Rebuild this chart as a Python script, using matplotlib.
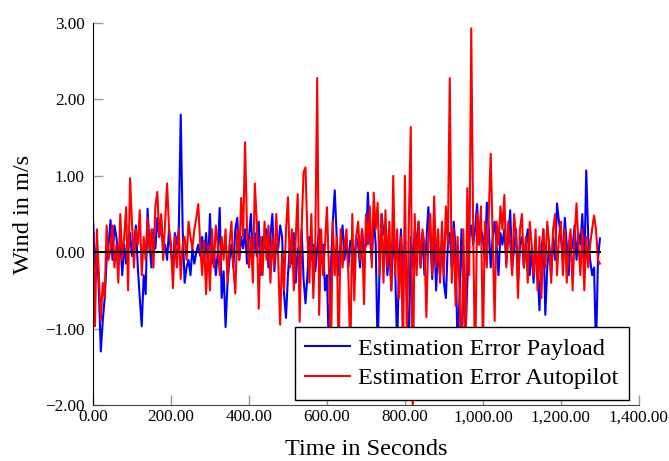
import matplotlib
matplotlib.use("Agg")
import matplotlib.pyplot as plt
from matplotlib.ticker import FuncFormatter
import numpy as np

plt.rcParams["font.family"] = ["Liberation Serif", "DejaVu Serif"]
plt.rcParams["axes.unicode_minus"] = True

# Sample times (s), one estimate every 5 seconds
time_s = np.arange(0, 1305, 5)

# Wind estimation error from the payload sensor (m/s)
payload_err = [
    0.45, -0.2, 0.1, -0.5, -1.3, -0.9, -0.6, -0.1, 0.1, 0.42,
    -0.1, 0.35, 0.2, -0.05, 0.15, -0.3, 0.1, -0.15, 0.05, 0.25,
    -0.05, 0.1, 0.35, -0.2, -0.6, -0.97, -0.3, -0.55, 0.57, 0.1,
    -0.2, 0.3, 0.05, 0.45, 0.2, 0.4, 0.05, 0.1, -0.1, 0.3,
    0.0, -0.2, 0.25, 0.1, 0.3, 1.8, 0.3, -0.4, -0.2, -0.1,
    -0.3, 0.05, -0.15, 0.0, 0.1, -0.05, 0.2, -0.1, 0.25, -0.2,
    0.5, -0.15, 0.05, -0.3, 0.0, 0.58, -0.6, -0.25, -0.98, -0.4,
    -0.1, 0.1, -0.2, 0.3, 0.45, -0.1, 0.2, 0.05, 0.3, -0.15,
    0.2, 0.5, -0.1, 0.25, -0.05, 0.4, -0.3, 0.2, 0.05, 0.3,
    -0.2, 0.2, 0.5, -0.25, 0.1, 0.05, 0.35, 0.2, -0.55, -0.86,
    -0.3, 0.1, -0.15, 0.25, -0.4, 0.05, -0.2, 0.3, -0.35, -0.67,
    -0.3, 0.2, -0.1, 0.1, -0.25, 0.05, 0.3, -0.15, 0.1, -0.5,
    -0.3, -1.3, -0.2, 0.4, 0.81, 0.2, -0.3, 0.1, 0.35, -0.1,
    0.2, -0.2, 0.15, 0.1, -0.1, 0.2, 0.1, -0.2, 0.3, 0.0,
    0.1, 0.78, 0.2, -0.1, 0.45, 0.1, -1.3, -0.2, 0.5, 0.25,
    0.2, -0.3, 0.1, -0.5, 0.3, -0.2, -1.3, -0.1, 0.3, -0.4,
    0.1, -0.6, -1.3, 0.2, -0.2, 0.3, 0.1, 0.4, -0.2, 0.25,
    -0.3, 0.15, 0.59, 0.2, -0.35, 0.3, -0.5, 0.1, -0.3, 0.2,
    -0.4, -0.6, 0.1, 0.25, -0.2, 0.4, 0.05, -1.3, -0.6, 0.3,
    -0.5, -1.2, -0.4, 0.2, 0.35, 0.1, 0.3, 0.63, 0.1, 0.3,
    0.2, -0.1, 0.65, 0.3, -0.2, 0.2, 0.4, 0.1, -0.3, 0.25,
    0.1, 0.3, -0.15, 0.2, 0.55, -0.2, 0.05, 0.3, -0.4, 0.1,
    0.2, -0.2, 0.1, 0.3, -0.3, 0.05, -0.4, 0.1, -0.2, -0.76,
    0.0, 0.3, -0.82, -0.2, 0.1, -0.3, 0.2, -0.1, 0.64, 0.4,
    0.2, -0.1, 0.45, 0.1, -0.3, 0.2, 0.05, 0.35, -0.1, 0.25,
    0.1, 0.5, -0.2, 1.07, 0.2, -0.1, -0.3, -0.2, -1.3, -0.1,
    0.18,
]

# Wind estimation error from the autopilot (m/s)
autopilot_err = [
    0.3, -0.97, 0.3, -0.3, -0.9, -0.4, -0.6, 0.35, -0.1, 0.05,
    0.35, -0.2, 0.1, -0.4, 0.5, -0.1, 0.2, 0.59, -0.5, 0.97,
    0.4, -0.2, 0.3, 0.1, 0.55, -0.3, 0.2, -0.1, 0.45, 0.0,
    0.3, -0.2, 0.6, 0.79, 0.2, 0.5, -0.1, 0.4, 0.9, 0.3,
    0.1, -0.47, 0.2, -0.2, 0.3, -0.35, 0.1, 0.2, -0.1, 0.4,
    0.2, 0.05, 0.3, 0.45, 0.63, 0.1, -0.3, 0.15, -0.55, 0.1,
    -0.5, 0.3, -0.2, 0.35, 0.1, -0.3, 0.2, -0.1, 0.3, -0.4,
    0.1, 0.4, -0.2, -0.54, 0.3, -0.1, 0.71, 0.2, 1.44, 0.3,
    -0.2, 0.2, -0.4, 0.9, 0.4, -0.74, 0.2, -0.3, 0.4, -0.1,
    0.35, -0.4, 0.2, -0.2, 0.5, -0.1, -0.95, 0.0, -0.5, 0.3,
    0.72, -0.2, 0.3, -0.5, 0.2, 0.76, -0.91, 0.3, 1.05, 1.11,
    0.2, -0.4, 0.5, -0.6, 0.1, 2.28, -0.82, 0.3, -0.3, 0.1,
    0.59, -0.2, -1.5, 0.4, -0.3, 0.2, -1.4, 0.3, -0.2, 0.1,
    0.3, -0.3, -1.4, 0.5, -0.63, 0.2, 0.4, -0.1, 0.3, -0.68,
    0.5, 0.1, 0.6, -0.2, 0.78, 0.3, 0.65, -0.3, 0.5, -0.4,
    0.55, -0.2, 0.4, -0.5, 1.0, -0.3, 0.3, -0.6, 0.2, -1.4,
    1.0, -1.2, 0.4, 1.64, -2.1, 0.5, -0.3, 0.4, -0.2, 0.3,
    0.1, -0.85, 0.2, 0.5, -0.3, 0.73, -0.2, 0.3, -0.4, 0.4,
    -0.3, 0.6, 0.1, 2.28, -0.4, 0.3, -0.7, 0.2, -0.5, -1.5,
    0.3, -1.4, 0.84, -0.3, 2.93, 0.3, -1.6, 0.5, 0.1, 0.6,
    -1.3, 0.4, -0.2, 0.5, 1.29, 0.2, -0.9, 0.4, 0.1, 0.6,
    0.3, 0.75, -0.2, 0.4, 0.1, -0.3, 0.5, 0.2, -0.6, 0.3,
    0.5, -0.2, 0.2, -0.4, 0.4, 0.1, -0.3, 0.3, -0.5, 0.2,
    -0.6, 0.3, -0.2, 0.4, 0.1, -0.4, 0.3, 0.5, -0.3, 0.2,
    0.4, -0.3, 0.3, -0.4, 0.1, 0.3, -0.5, 0.2, 0.64, 0.1,
    -0.3, 0.3, -0.5, 0.2, -0.2, 0.1, 0.3, 0.48, 0.3, -0.1,
    -0.15,
]

x_ticks = [0, 200, 400, 600, 800, 1000, 1200, 1400]
y_ticks = [-2, -1, 0, 1, 2, 3]

fig = plt.figure(figsize=(6.69, 4.61), dpi=100)
ax = fig.add_axes([0.139, 0.1215, 0.816, 0.8285])

ax.plot(time_s, payload_err, color="#0000ff", lw=1.5, label="Estimation Error Payload")
ax.plot(time_s, autopilot_err, color="#ff0000", lw=1.5, label="Estimation Error Autopilot")
ax.plot(time_s, np.zeros(len(time_s)), color="black", lw=1.5)

ax.set_xlim(0, 1400)
ax.set_ylim(-2, 3)
ax.set_xticks(x_ticks)
ax.set_yticks(y_ticks)

def fmt(v, _pos):
    return f"{v:,.2f}".replace("-", "\u2212")

ax.xaxis.set_major_formatter(FuncFormatter(fmt))
ax.yaxis.set_major_formatter(FuncFormatter(fmt))

for side in ("top", "right"):
    ax.spines[side].set_visible(False)
ax.spines["left"].set_color("black")
ax.spines["bottom"].set_color("#444444")
ax.tick_params(axis="both", direction="in", length=7.5, width=1.0,
               color="#999999", labelsize=12.3, pad=3)
ax.tick_params(axis="y", pad=6)

ax.set_xlabel("Time in Seconds", fontsize=17.5, labelpad=10)
ax.set_ylabel("Wind in m/s", fontsize=17.5, labelpad=8)

leg = ax.legend(loc="lower right", bbox_to_anchor=(0.982, 0.013),
                fontsize=17.5, frameon=True, fancybox=False,
                edgecolor="black", framealpha=1.0, handlelength=1.85,
                borderaxespad=0.0, borderpad=0.45, labelspacing=0.3,
                handletextpad=0.3)
leg.get_frame().set_linewidth(1.0)

fig.savefig("out.png", dpi=100)
